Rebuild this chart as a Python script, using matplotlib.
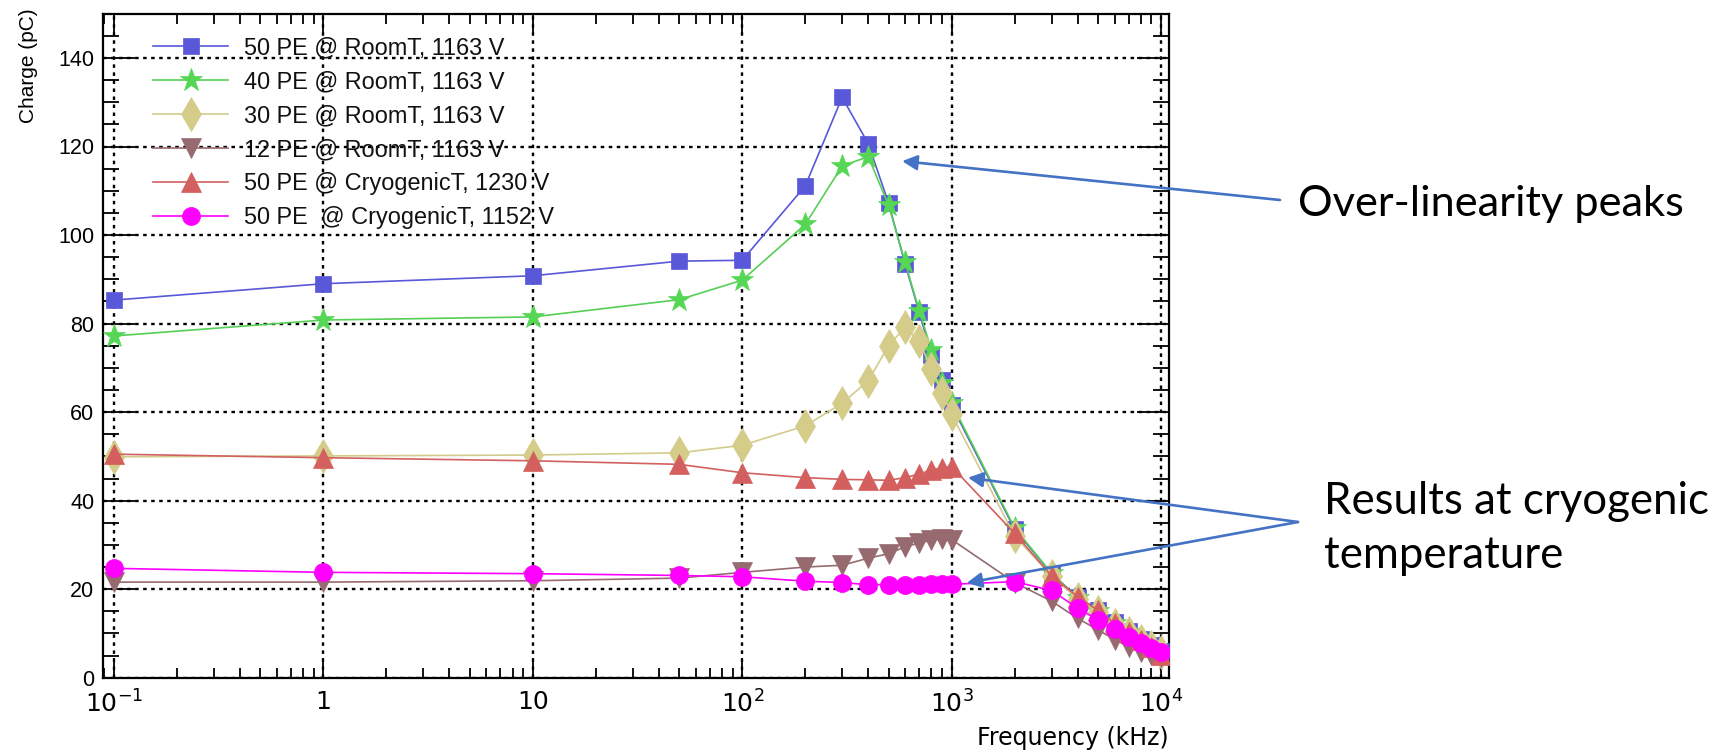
import matplotlib
matplotlib.use("Agg")
import matplotlib.pyplot as plt
from matplotlib.ticker import FixedLocator, FixedFormatter, MultipleLocator, LogLocator, NullFormatter

# ---------------- data ----------------
freq = [0.1, 1, 10, 50, 100, 200, 300, 400, 500, 600, 700, 800, 900, 1000,
        2000, 3000, 4000, 5000, 6000, 7000, 8000, 9000, 10000]

pe50_room = [85.3, 89.0, 90.8, 94.1, 94.3, 111.1, 131.1, 120.6, 107.2, 93.4, 82.6, 73.0, 67.2, 61.5,
             33.5, 23.5, 18.2, 15.3, 12.5, 10.5, 8.7, 7.3, 6.0]
pe40_room = [77.2, 80.8, 81.5, 85.4, 89.8, 102.4, 115.6, 117.7, 106.7, 93.8, 82.9, 74.1, 66.6, 62.0,
             33.8, 23.6, 18.0, 15.0, 12.3, 10.3, 8.5, 7.0, 5.9]
pe30_room = [49.9, 50.1, 50.3, 50.8, 52.5, 56.9, 62.0, 67.1, 75.0, 79.2, 76.0, 69.8, 64.4, 59.5,
             32.0, 23.0, 17.8, 14.8, 12.0, 10.0, 8.3, 6.9, 5.7]
pe12_room = [21.6, 21.6, 21.9, 22.5, 23.8, 25.0, 25.4, 27.0, 28.0, 29.6, 30.4, 31.1, 31.3, 31.2,
             21.5, 17.3, 13.4, 10.8, 8.6, 7.0, 5.9, 5.1, 4.7]
pe50_cryo_1230 = [50.5, 49.7, 49.0, 48.2, 46.3, 45.2, 44.8, 44.7, 44.6, 45.2, 46.0, 46.9, 47.4, 47.7,
                  32.6, 23.0, 18.3, 15.2, 12.3, 10.4, 8.5, 7.0, 5.2]
pe50_cryo_1152 = [24.7, 23.8, 23.5, 23.1, 22.8, 21.8, 21.5, 21.0, 21.0, 21.0, 21.0, 21.1, 21.1, 21.1,
                  21.7, 19.7, 15.7, 13.05, 10.9, 9.1, 7.8, 6.6, 5.7]

labels = ["50 PE @ RoomT, 1163 V",
          "40 PE @ RoomT, 1163 V",
          "30 PE @ RoomT, 1163 V",
          "12 PE @ RoomT, 1163 V",
          "50 PE @ CryogenicT, 1230 V",
          "50 PE  @ CryogenicT, 1152 V"]

xtick_vals = [0.1, 1, 10, 100, 1000, 10000]
xtick_labels = [r"$10^{-1}$", "1", "10", r"$10^{2}$", r"$10^{3}$", r"$10^{4}$"]
ytick_vals = [0, 20, 40, 60, 80, 100, 120, 140]

# ---------------- style ----------------
W, H = 1713, 752
plt.rcParams["font.family"] = ["Liberation Sans", "DejaVu Sans"]
plt.rcParams["mathtext.fontset"] = "custom"
plt.rcParams["mathtext.rm"] = "Liberation Sans Narrow"
plt.rcParams["mathtext.it"] = "Liberation Sans Narrow"
plt.rcParams["mathtext.default"] = "regular"

fig = plt.figure(figsize=(W / 100, H / 100), dpi=100)
L, R, B, T = 102.7, 1169, 677.7, 13.7
ax = fig.add_axes([L / W, 1 - B / H, (R - L) / W, (B - T) / H])

def fx(px):
    return px / W

def fy(py):
    return 1 - py / H

series = [
    (pe50_room, "#5858D8", "#5858D8", "s", 12),
    (pe40_room, "#55CF55", "#55D655", "*", 17),
    (pe30_room, "#D2CB8C", "#D4CC88", "d", 17),
    (pe12_room, "#976A70", "#976A70", "v", 14),
    (pe50_cryo_1230, "#D36060", "#D35F5F", "^", 14),
    (pe50_cryo_1152, "#FF00FF", "#FF00FF", "o", 13),
]
for (vals, lc, mc, mk, ms), lab in zip(series, labels):
    ax.plot(freq, vals, color=lc, lw=1.2, marker=mk, ms=ms, mfc=mc, mec=mc,
            mew=0.5, label=lab, zorder=3)

ax.set_xscale("log")
ax.set_xlim(10 ** -1.054, 10 ** 4.038)
ax.set_ylim(0, 150)

ax.xaxis.set_major_locator(FixedLocator(xtick_vals))
ax.xaxis.set_major_formatter(FixedFormatter(xtick_labels))
ax.xaxis.set_minor_locator(LogLocator(base=10, subs=[2, 3, 4, 5, 6, 7, 8, 9], numticks=20))
ax.xaxis.set_minor_formatter(NullFormatter())
ax.yaxis.set_major_locator(FixedLocator(ytick_vals))
ax.yaxis.set_minor_locator(MultipleLocator(5))

ax.grid(True, which="major", color="black", linestyle=(0, (1.5, 1.9)), lw=1.7, zorder=1)

for sp in ax.spines.values():
    sp.set_linewidth(1.6)
    sp.set_color("black")

ax.tick_params(axis="both", which="both", direction="in", top=True, right=True,
               color="black", width=1.3)
ax.tick_params(axis="x", which="major", length=14.4, pad=9, labelsize=18)
ax.tick_params(axis="x", which="minor", length=7.2)
ax.tick_params(axis="y", which="major", length=23, pad=6, labelsize=15.5)
ax.tick_params(axis="y", which="minor", length=11.5)
for t in ax.get_xticklabels():
    t.set_family("Liberation Sans Narrow")

fig.text(fx(29), fy(8), "Charge (pC)", rotation=90, ha="center", va="top", fontsize=15)
fig.text(fx(R), fy(750), "Frequency (kHz)", ha="right", va="bottom", fontsize=17,
         family="Liberation Sans Narrow")

leg = ax.legend(loc="upper left", bbox_to_anchor=((153 - L) / (R - L), (B - 36) / (B - T)),
                frameon=False, fontsize=16.9, handlelength=3.2, handletextpad=0.68,
                labelspacing=0.47, borderpad=0, borderaxespad=0, markerscale=1.0)
for t in leg.get_texts():
    t.set_color("#111111")

# ---------------- annotations ----------------
acol = "#4472C4"
ann_font = ["Lato", "DejaVu Sans"]
fig.text(fx(1298), fy(204), "Over-linearity peaks", ha="left", va="center",
         fontsize=31.2, family=ann_font, color="black")
fig.text(fx(1324), fy(502), "Results at cryogenic", ha="left", va="center",
         fontsize=31.5, family=ann_font, color="black")
fig.text(fx(1324), fy(555), "temperature", ha="left", va="center",
         fontsize=31.5, family=ann_font, color="black")

arrowprops = dict(arrowstyle="-|>,head_length=0.9,head_width=0.45", color=acol, lw=1.9,
                  shrinkA=0, shrinkB=0)
ax.annotate("", xy=(580, 116.7), xycoords="data",
            xytext=(fx(1280), fy(200)), textcoords="figure fraction", arrowprops=arrowprops)
ax.annotate("", xy=(1197, 45.2), xycoords="data",
            xytext=(fx(1298), fy(522)), textcoords="figure fraction", arrowprops=arrowprops)
ax.annotate("", xy=(1180, 21.4), xycoords="data",
            xytext=(fx(1298), fy(522)), textcoords="figure fraction", arrowprops=arrowprops)

fig.savefig("out.png", dpi=100)
